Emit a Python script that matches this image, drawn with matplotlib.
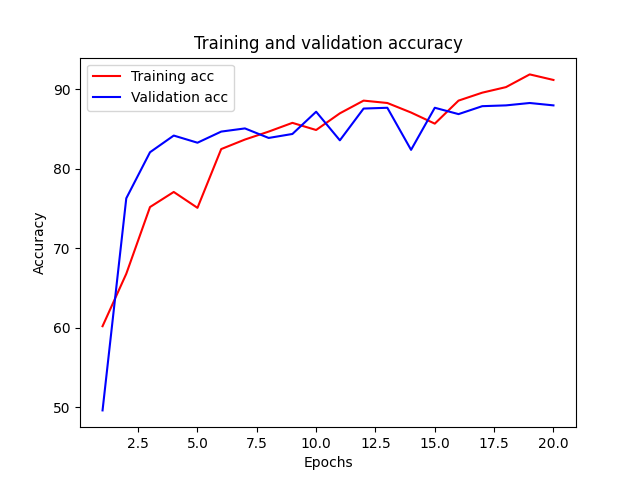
import matplotlib
matplotlib.use("Agg")
import matplotlib.pyplot as plt

epochs = list(range(1, 21))
train_acc = [60.2, 66.8, 75.2, 77.1, 75.1, 82.5, 83.7, 84.7, 85.8, 84.9,
             87.0, 88.6, 88.3, 87.1, 85.7, 88.6, 89.6, 90.3, 91.9, 91.2]
val_acc = [49.6, 76.3, 82.1, 84.2, 83.3, 84.7, 85.1, 83.9, 84.4, 87.2,
           83.6, 87.6, 87.7, 82.4, 87.7, 86.9, 87.9, 88.0, 88.3, 88.0]

fig, ax = plt.subplots(figsize=(6.4, 4.8), dpi=100)
ax.plot(epochs, train_acc, "r", label="Training acc")
ax.plot(epochs, val_acc, "b", label="Validation acc")
ax.set_title("Training and validation accuracy")
ax.set_xlabel("Epochs")
ax.set_ylabel("Accuracy")
ax.legend()

fig.savefig("out.png", dpi=100)
